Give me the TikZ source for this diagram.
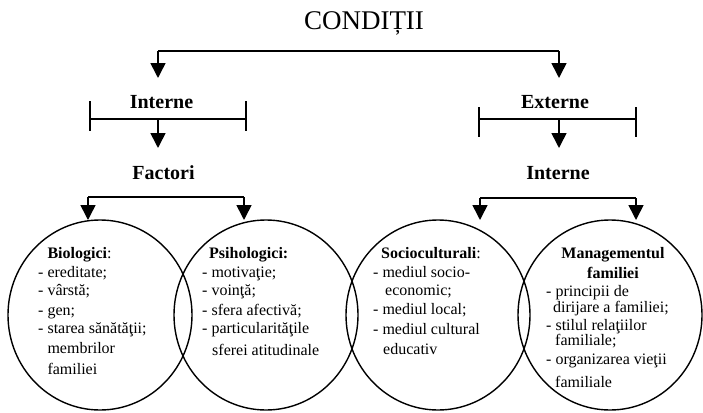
\documentclass[tikz,border=0pt]{standalone}
\usepackage{fontspec}
\setmainfont{Liberation Serif}
\usetikzlibrary{arrows.meta,shapes.geometric}
\begin{document}
\begin{tikzpicture}[x=1pt,y=-1pt,
  line/.style={line width=1.6pt},
  arr/.style={line width=1.6pt,-{Triangle[length=15pt,width=15pt]}},
  circ/.style={ellipse,draw,line width=1.4pt,minimum width=184pt,minimum height=190pt,inner sep=0pt},
  head/.style={font=\fontsize{20}{24}\selectfont\bfseries,inner sep=0pt,anchor=base},
  body/.style={font=\fontsize{16}{18}\selectfont,inner sep=0pt,anchor=base west},
]
\useasboundingbox (0,0) rectangle (703,412);
\fill[white] (0,0) rectangle (703,412);
% title
\node[font=\fontsize{27}{32}\selectfont,inner sep=0pt,anchor=base] (cond) at (364,30) {CONDIȚII};
% top bracket
\coordinate (tL) at (158,51);
\coordinate (tR) at (559,51);
\coordinate (aL) at (158,78);
\coordinate (aR) at (559,78);
\draw[line] (tL) -- (tR);
\draw[arr] (tL) -- (aL);
\draw[arr] (tR) -- (aR);
% second level
\node[head] (intL) at (161.5,108) {Interne};
\node[head] (ext) at (555,108) {Externe};
\coordinate (bL1) at (90,119);
\coordinate (bL2) at (246,119);
\coordinate (bLt1) at (90,101);
\coordinate (bLb1) at (90,131);
\coordinate (bLt2) at (246,101);
\coordinate (bLb2) at (246,131);
\draw[line] (bL1) -- (bL2);
\draw[line] (bLt1) -- (bLb1);
\draw[line] (bLt2) -- (bLb2);
\coordinate (bR1) at (479,119);
\coordinate (bR2) at (636,119);
\coordinate (bRt1) at (479,107);
\coordinate (bRb1) at (479,137);
\coordinate (bRt2) at (636,107);
\coordinate (bRb2) at (636,137);
\draw[line] (bR1) -- (bR2);
\draw[line] (bRt1) -- (bRb1);
\draw[line] (bRt2) -- (bRb2);
\coordinate (mL) at (158,119);
\coordinate (mR) at (559,119);
\coordinate (mLa) at (158,148);
\coordinate (mRa) at (559,148);
\draw[arr] (mL) -- (mLa);
\draw[arr] (mR) -- (mRa);
% third level
\node[head] (fact) at (163.5,179) {Factori};
\node[head] (intR) at (558,179) {Interne};
\coordinate (fL1) at (88,197);
\coordinate (fL2) at (244,197);
\coordinate (fL1a) at (88,220);
\coordinate (fL2a) at (244,220);
\draw[line] (fL1) -- (fL2);
\draw[arr] (fL1) -- (fL1a);
\draw[arr] (fL2) -- (fL2a);
\coordinate (fR1) at (480,198);
\coordinate (fR2) at (636,198);
\coordinate (fR1a) at (480,220);
\coordinate (fR2a) at (636,220);
\draw[line] (fR1) -- (fR2);
\draw[arr] (fR1) -- (fR1a);
\draw[arr] (fR2) -- (fR2a);
% circles
\node[circ] (c1) at (100,315) {};
\node[circ] (c2) at (266,315) {};
\node[circ] (c3) at (438,315) {};
\node[circ] (c4) at (610,315) {};
% texts
\node[body] (t1) at (38,258) {\begin{tabular}[t]{@{}l@{}}\hspace{9.3pt}\textbf{Biologici}:\\[1pt]
- ereditate;\\[0pt]
- vârstă;\\[2pt]
- gen;\\
- starea sănătăţii;\\[2pt]
\hspace{9.3pt}membrilor\\[3pt]
\hspace{9.3pt}familiei\end{tabular}};
\node[body] (t2) at (202,258) {\begin{tabular}[t]{@{}l@{}}\hspace{7pt}\textbf{Psihologici:}\\[1pt]
- motivaţie;\\[0pt]
- voinţă;\\[2pt]
- sfera afectivă;\\
- particularităţile\\[4pt]
\hspace{10pt}sferei atitudinale\end{tabular}};
\node[body] (t3) at (373,258) {\begin{tabular}[t]{@{}l@{}}\hspace{8pt}\textbf{Socioculturali}:\\[1pt]
- mediul socio-\\[0pt]
\hspace{12pt}economic;\\[1pt]
- mediul local;\\[2pt]
- mediul cultural\\[2pt]
\hspace{10pt}educativ\end{tabular}};
\node[body,anchor=base] (t4h) at (613,258) {\begin{tabular}[t]{@{}c@{}}\textbf{Managementul}\\[2pt]
\textbf{familiei}\end{tabular}};
\node[body] (t4) at (546,296) {\begin{tabular}[t]{@{}l@{}}- principii de\\[-2pt]
\hspace{7pt}dirijare a familiei;\\
- stilul relaţiilor\\[-3pt]
\hspace{9pt}familiale;\\[1pt]
- organizarea vieţii\\[5pt]
\hspace{9pt}familiale\end{tabular}};
\end{tikzpicture}
\end{document}
